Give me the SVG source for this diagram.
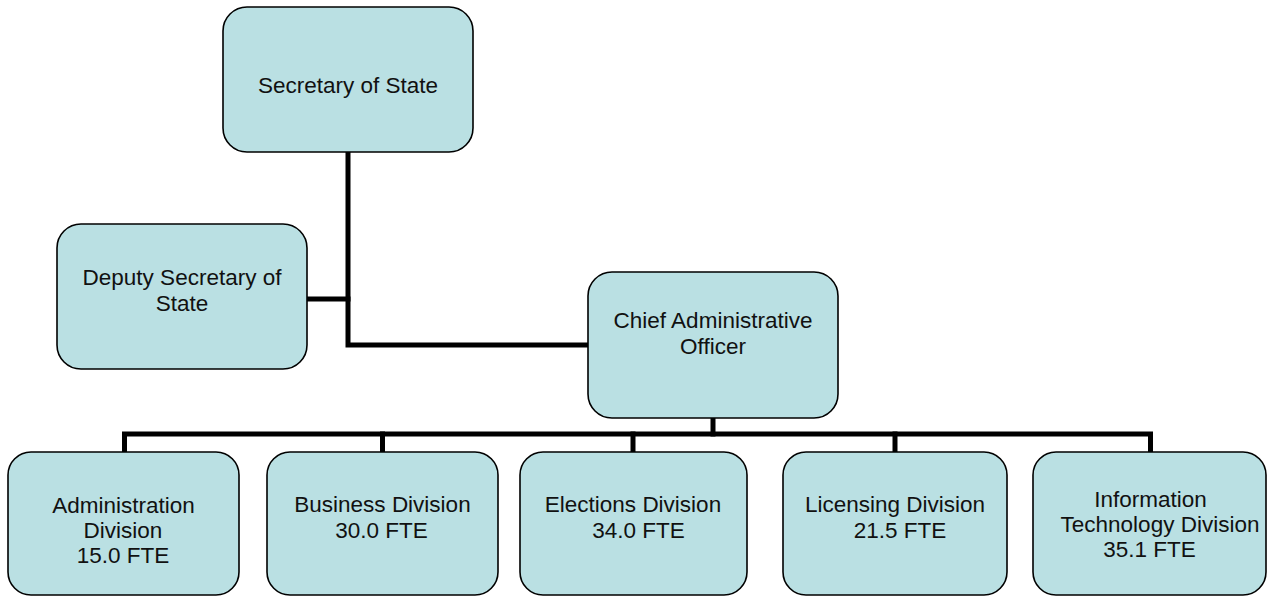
<svg xmlns="http://www.w3.org/2000/svg" width="1268" height="597" viewBox="0 0 1268 597">
<style>
.box{fill:#BAE0E3;stroke:#000;stroke-width:1.6}
.lbl{font-family:"Liberation Sans",Arial,sans-serif;font-size:22.5px;fill:#111;text-anchor:middle}
.conn{fill:none;stroke:#000;stroke-width:5;stroke-linejoin:miter;stroke-linecap:square}
</style>
<rect width="1268" height="597" fill="#fff"/>
<g id="connectors">
<polyline class="conn" points="348,154 348,345 586,345"/>
<line class="conn" x1="309" y1="299" x2="348" y2="299"/>
<line class="conn" x1="713" y1="420" x2="713" y2="434"/>
<polyline class="conn" points="124.5,450 124.5,434 1150.5,434 1150.5,450"/>
<line class="conn" x1="382.5" y1="434" x2="382.5" y2="450"/>
<line class="conn" x1="633" y1="434" x2="633" y2="450"/>
<line class="conn" x1="895" y1="434" x2="895" y2="450"/>
</g>
<g id="secretary">
<rect class="box" x="223" y="7" width="250" height="145" rx="24"/>
<text class="lbl" x="348" y="93">Secretary of State</text>
</g>
<g id="deputy">
<rect class="box" x="57" y="224" width="250" height="145" rx="24"/>
<text class="lbl" x="182" y="285">Deputy Secretary of</text>
<text class="lbl" x="182" y="311">State</text>
</g>
<g id="cao">
<rect class="box" x="588" y="272" width="250" height="146" rx="24"/>
<text class="lbl" x="713" y="328">Chief Administrative</text>
<text class="lbl" x="713" y="354">Officer</text>
</g>
<g id="admin">
<rect class="box" x="8" y="452" width="231" height="143" rx="23"/>
<text class="lbl" x="123.5" y="513">Administration</text>
<text class="lbl" x="123" y="538">Division</text>
<text class="lbl" x="123" y="563">15.0 FTE</text>
</g>
<g id="business">
<rect class="box" x="267" y="452" width="231" height="143" rx="23"/>
<text class="lbl" x="382.5" y="512">Business Division</text>
<text class="lbl" x="381.5" y="538">30.0 FTE</text>
</g>
<g id="elections">
<rect class="box" x="520" y="452" width="227" height="143" rx="23"/>
<text class="lbl" x="633" y="512">Elections Division</text>
<text class="lbl" x="638.5" y="538">34.0 FTE</text>
</g>
<g id="licensing">
<rect class="box" x="783" y="452" width="224" height="143" rx="23"/>
<text class="lbl" x="895" y="512">Licensing Division</text>
<text class="lbl" x="900" y="538">21.5 FTE</text>
</g>
<g id="it">
<rect class="box" x="1033" y="452" width="233" height="143" rx="23"/>
<text class="lbl" x="1150.5" y="507">Information</text>
<text class="lbl" x="1160" y="532">Technology Division</text>
<text class="lbl" x="1149.5" y="557">35.1 FTE</text>
</g>
</svg>
